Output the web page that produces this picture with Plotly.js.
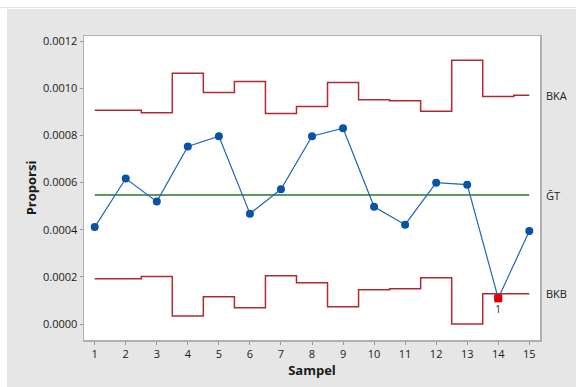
<!DOCTYPE html>
<html>
<head>
<meta charset="utf-8">
<script src="https://cdn.plot.ly/plotly-3.0.1.min.js"></script>
<style>
  html, body { margin: 0; padding: 0; background: #ffffff; width: 576px; height: 387px; overflow: hidden; }
  #topline { position: absolute; left: 0; top: 7px; width: 576px; height: 1px; background: #e2e2e2; }
  #chart { position: absolute; left: 7px; top: 9px; width: 569px; height: 378px; }
</style>
</head>
<body>
<div id="topline"></div>
<div id="chart"></div>
<script>
const sampel = [1, 2, 3, 4, 5, 6, 7, 8, 9, 10, 11, 12, 13, 14, 15];
const proporsi = [0.000411, 0.000617, 0.000519, 0.000753, 0.000796, 0.000468, 0.000571, 0.000796, 0.000830, 0.000497, 0.000421, 0.000599, 0.000591, 0.000109, 0.000394];
const bka = [0.000906, 0.000906, 0.000896, 0.001063, 0.000982, 0.001028, 0.000893, 0.000922, 0.001024, 0.000951, 0.000947, 0.000902, 0.001118, 0.000965, 0.000970];
const bkb = [0.000192, 0.000192, 0.000201, 0.000034, 0.000116, 0.000069, 0.000205, 0.000175, 0.000073, 0.000145, 0.000150, 0.000196, 0.000000, 0.000128, 0.000128];
const gt = 0.000547;
const outIdx = [13];
const outLabel = ["1"];
const yTicks = [0, 0.0002, 0.0004, 0.0006, 0.0008, 0.0010, 0.0012];
const yTickText = ["0.0000", "0.0002", "0.0004", "0.0006", "0.0008", "0.0010", "0.0012"];

const FONT = "'Open Sans', 'Noto Sans', sans-serif";
const red = '#b02a2e';

const traces = [
  { x: sampel, y: bka, mode: 'lines', line: { color: red, width: 1.5, shape: 'hvh' }, hoverinfo: 'skip' },
  { x: sampel, y: bkb, mode: 'lines', line: { color: red, width: 1.5, shape: 'hvh' }, hoverinfo: 'skip' },
  { x: [sampel[0], sampel[sampel.length - 1]], y: [gt, gt], mode: 'lines', line: { color: '#237a23', width: 1.3 }, hoverinfo: 'skip' },
  { x: sampel, y: proporsi, mode: 'lines+markers', line: { color: '#1f66b5', width: 1.2 },
    marker: { color: '#0a52a5', size: 8, symbol: 'circle' } },
  { x: outIdx.map(i => sampel[i]), y: outIdx.map(i => proporsi[i]), mode: 'markers+text',
    marker: { color: '#e00000', size: 8, symbol: 'square' },
    text: outLabel, textposition: 'bottom center', textfont: { family: FONT, size: 11, color: '#333' } }
];

const layout = {
  width: 569, height: 378,
  margin: { l: 77, r: 36, t: 27, b: 47 },
  paper_bgcolor: '#e6e6e6',
  plot_bgcolor: '#ffffff',
  showlegend: false,
  font: { family: FONT, size: 11, color: '#1a1a1a' },
  xaxis: {
    range: [0.655, 15.345],
    tickvals: sampel, ticktext: sampel.map(String),
    ticks: 'outside', ticklen: 3, tickcolor: '#999',
    showgrid: false, zeroline: false,
    showline: true, linecolor: '#b0b0b0', linewidth: 1.5, mirror: true,
    tickfont: { family: FONT, size: 11, color: '#1a1a1a' },
    title: { text: '<b>Sampel</b>', font: { family: FONT, size: 13, color: '#1a1a1a' }, standoff: 6 }
  },
  yaxis: {
    range: [-0.0000678, 0.0012212],
    tickvals: yTicks, ticktext: yTickText,
    ticks: 'outside', ticklen: 3, tickcolor: '#999',
    showgrid: false, zeroline: false,
    showline: true, linecolor: '#b0b0b0', linewidth: 1.5, mirror: true,
    tickfont: { family: FONT, size: 11, color: '#1a1a1a' },
    title: { text: '<b>Proporsi</b>', font: { family: FONT, size: 13, color: '#1a1a1a' }, standoff: 3 }
  },
  annotations: [
    { xref: 'paper', x: 1, xshift: 4, xanchor: 'left', yref: 'y', y: bka[bka.length - 1], text: 'BKA', showarrow: false, font: { family: FONT, size: 11, color: '#1a1a1a' } },
    { xref: 'paper', x: 1, xshift: 4, xanchor: 'left', yref: 'y', y: gt, text: 'G\u0304T', showarrow: false, font: { family: FONT, size: 11, color: '#1a1a1a' } },
    { xref: 'paper', x: 1, xshift: 4, xanchor: 'left', yref: 'y', y: bkb[bkb.length - 1], text: 'BKB', showarrow: false, font: { family: FONT, size: 11, color: '#1a1a1a' } }
  ]
};

Plotly.newPlot('chart', traces, layout, { displayModeBar: false, staticPlot: true });
</script>
</body>
</html>
